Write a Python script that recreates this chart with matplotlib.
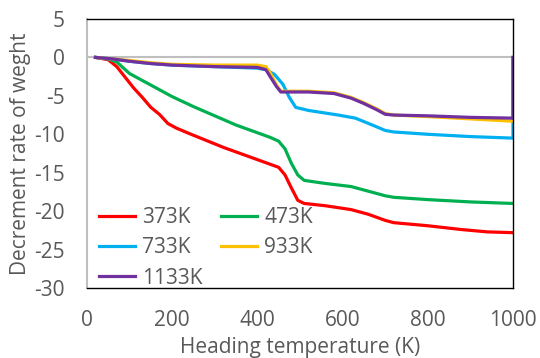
import matplotlib
matplotlib.use("Agg")
import matplotlib.pyplot as plt

plt.rcParams['font.family'] = ['Open Sans', 'DejaVu Sans']
plt.rcParams['axes.unicode_minus'] = False

# ---------------------------------------------------------
# Data
# ---------------------------------------------------------
x_373 = [20, 50, 70, 90, 110, 130, 150, 170, 190, 210, 240, 280, 320, 360, 400,
         430, 450, 465, 480, 495, 510, 560, 620, 660, 700, 720, 800, 880, 940, 1000]
y_373 = [0, -0.3, -1.2, -2.6, -4.0, -5.2, -6.5, -7.4, -8.6, -9.2, -9.9, -10.8, -11.7,
         -12.5, -13.3, -13.9, -14.3, -15.3, -17.0, -18.6, -19.0, -19.3, -19.8, -20.4,
         -21.2, -21.5, -21.9, -22.4, -22.7, -22.8]

x_473 = [20, 50, 70, 100, 130, 170, 200, 250, 300, 350, 400, 430, 450, 465, 480,
         495, 510, 560, 620, 660, 700, 720, 800, 900, 1000]
y_473 = [0, -0.2, -0.6, -2.1, -3.0, -4.2, -5.1, -6.4, -7.6, -8.8, -9.8, -10.4, -10.9,
         -11.9, -13.8, -15.3, -16.0, -16.4, -16.8, -17.4, -18.0, -18.2, -18.5, -18.8, -19.0]

x_733 = [20, 60, 100, 150, 200, 300, 400, 420, 440, 460, 475, 490, 520, 590, 630,
         670, 700, 720, 800, 900, 1000, 1000]
y_733 = [0, -0.2, -0.5, -0.8, -1.0, -1.2, -1.4, -1.6, -2.2, -3.5, -5.2, -6.5, -6.9,
         -7.5, -7.9, -8.8, -9.5, -9.7, -10.0, -10.3, -10.5, 0]

x_933 = [20, 60, 100, 150, 200, 300, 400, 420, 430, 445, 455, 470, 520, 580, 620,
         650, 680, 700, 720, 800, 900, 1000]
y_933 = [0, -0.2, -0.4, -0.7, -0.9, -1.0, -1.0, -1.2, -2.0, -3.6, -4.4, -4.4, -4.4,
         -4.6, -5.2, -5.9, -6.7, -7.3, -7.5, -7.7, -8.0, -8.3]

x_1133 = [20, 60, 100, 150, 200, 300, 400, 420, 430, 445, 455, 470, 520, 580, 620,
          650, 680, 700, 720, 800, 900, 1000, 1000]
y_1133 = [0, -0.2, -0.5, -0.8, -1.0, -1.2, -1.3, -1.6, -2.5, -3.8, -4.5, -4.5, -4.5,
          -4.7, -5.3, -6.0, -6.8, -7.4, -7.5, -7.6, -7.8, -7.9, 0]

series = [
    ("373K", x_373, y_373, "#FF0000"),
    ("473K", x_473, y_473, "#00B050"),
    ("733K", x_733, y_733, "#00B0F0"),
    ("933K", x_933, y_933, "#FFC000"),
    ("1133K", x_1133, y_1133, "#7030A0"),
]

x_ticks = [0, 200, 400, 600, 800, 1000]
y_ticks = [-30, -25, -20, -15, -10, -5, 0, 5]

# ---------------------------------------------------------
# Plot
# ---------------------------------------------------------
grey_txt = "#595959"
fs = 15

fig = plt.figure(figsize=(5.4, 3.58), dpi=100)
ax = fig.add_axes([0.161, 0.1955, 0.789, 0.7515])

ax.axhline(0, color="#BFBFBF", lw=1.5, zorder=1)

handles = {}
for name, xs, ys, col in series:
    h, = ax.plot(xs, ys, color=col, lw=2.3, label=name, zorder=2)
    handles[name] = h

ax.set_xlim(0, 1000)
ax.set_ylim(-30, 5)
ax.set_xticks(x_ticks)
ax.set_yticks(y_ticks)
ax.tick_params(length=0, labelsize=fs, labelcolor=grey_txt)
ax.tick_params(axis="x", pad=16)
ax.tick_params(axis="y", pad=16)

for s in ["top", "right", "bottom"]:
    ax.spines[s].set_color("black")
    ax.spines[s].set_linewidth(1.0)
ax.spines["left"].set_color("#BFBFBF")
ax.spines["left"].set_linewidth(1.5)

ax.set_xlabel("Heading temperature (K)", fontsize=fs, color=grey_txt, labelpad=4)
ax.set_ylabel("Decrement rate of weght", fontsize=fs, color=grey_txt, labelpad=2)

# row-major order like the original: 373K 473K / 733K 933K / 1133K
order = ["373K", "733K", "1133K", "473K", "933K"]
ax.legend([handles[k] for k in order], order, loc="upper left",
          bbox_to_anchor=(0.005, 0.34), ncol=2, frameon=False, fontsize=fs,
          labelcolor=grey_txt, handlelength=1.7, handletextpad=0.35,
          columnspacing=0.9, labelspacing=0.45, borderpad=0)

fig.savefig("out.png", dpi=100)
